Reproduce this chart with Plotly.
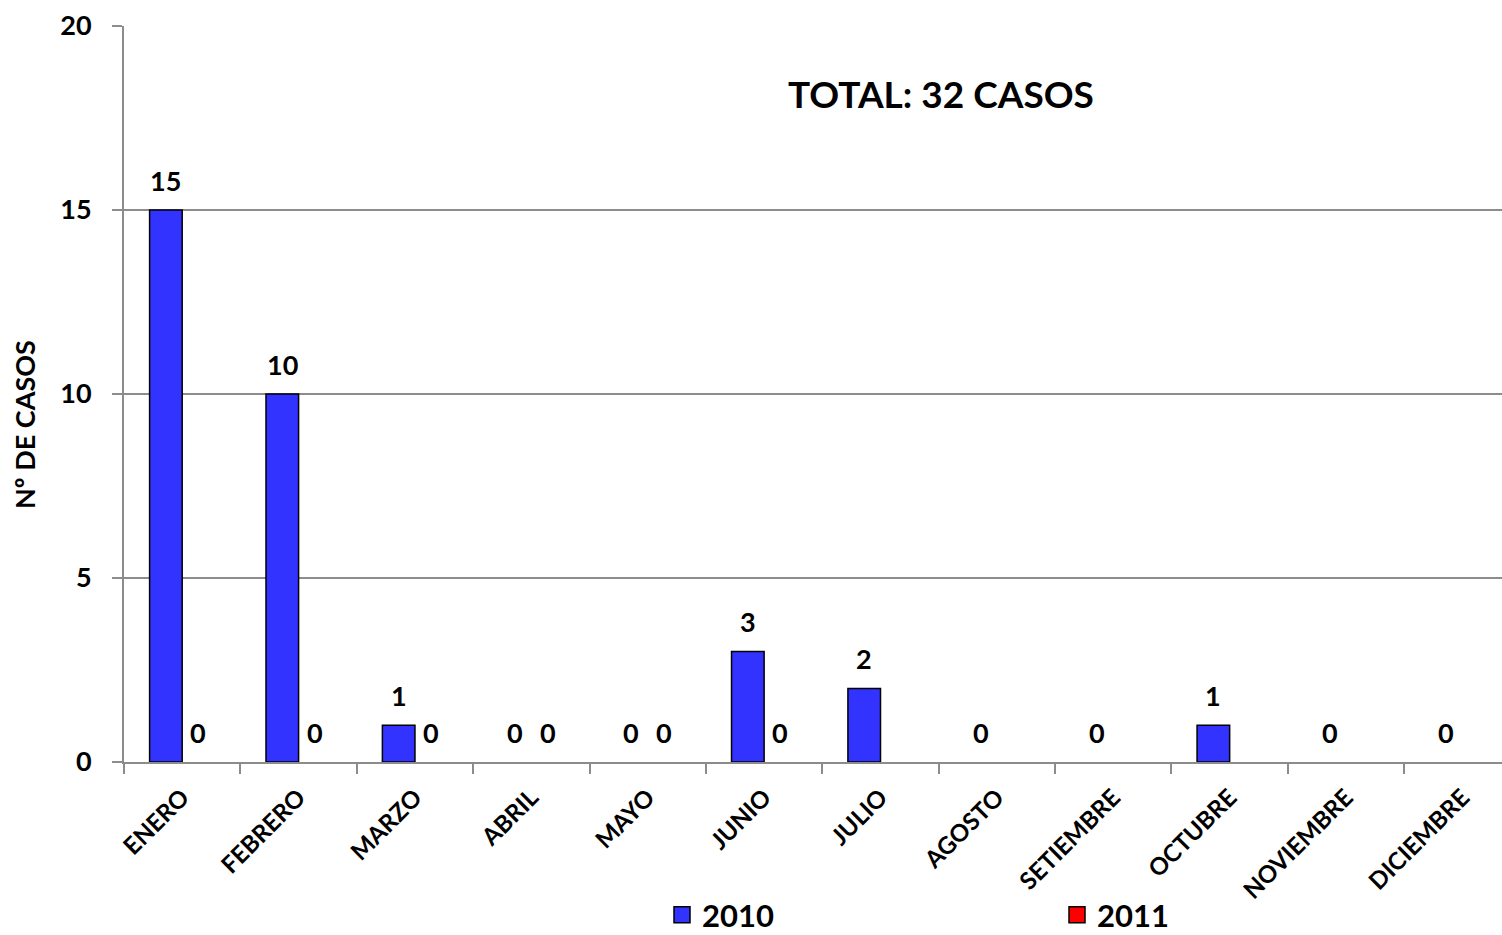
import plotly.graph_objects as go

meses = ["ENERO", "FEBRERO", "MARZO", "ABRIL", "MAYO", "JUNIO", "JULIO",
         "AGOSTO", "SETIEMBRE", "OCTUBRE", "NOVIEMBRE", "DICIEMBRE"]
casos_2010 = [15, 10, 1, 0, 0, 3, 2, 0, 0, 1, 0, 0]
casos_2011 = [0, 0, 0, 0, 0, 0, None, None, None, None, None, None]
total_texto = "TOTAL: 32 CASOS"
y_ticks = [0, 5, 10, 15, 20]

FONT = "Lato"
BARGAP = 0.44
bar_w = (1 - BARGAP) / 2
GRID = "#8c8c8c"
COLORS = {"2010": "#3333FF", "2011": "#FF0000"}

L, R, T, B = 124, 0, 26, 173
W, H = 1502, 935
pw, ph = W - L - R, H - T - B


def px_x(x):
    return (x - L) / pw


def px_y(y):
    return (H - B - y) / ph


fig = go.Figure()
for name, serie in (("2010", casos_2010), ("2011", casos_2011)):
    fig.add_trace(go.Bar(
        name=name, x=meses, y=serie, legendgroup=name, showlegend=False,
        marker=dict(color=COLORS[name],
                    line=dict(color="black",
                              width=[1.5 if (v is not None and v > 0) else 0 for v in serie]))))
    # legend entry with a larger square swatch
    fig.add_trace(go.Scatter(
        name=name, x=[None], y=[None], mode="markers", legendgroup=name, showlegend=True,
        marker=dict(symbol="square", size=20, color=COLORS[name],
                    line=dict(color="black", width=1.5))))

annotations = []
for serie, off in ((casos_2010, -bar_w / 2), (casos_2011, bar_w / 2)):
    for i, v in enumerate(serie):
        if v is None:
            continue
        annotations.append(dict(x=i + off, y=v, xref="x", yref="y", text=str(v),
                                showarrow=False, xanchor="center", yanchor="middle", yshift=30,
                                font=dict(family=FONT, size=27, color="black", weight="bold")))

annotations.append(dict(x=px_x(941), y=px_y(93), xref="paper", yref="paper", text=total_texto,
                        showarrow=False, xanchor="center", yanchor="middle",
                        font=dict(family=FONT, size=37, color="black", weight="bold")))
annotations.append(dict(text="Nº DE CASOS", textangle=-90, xref="paper", yref="paper",
                        x=px_x(24), y=px_y(425), showarrow=False,
                        xanchor="center", yanchor="middle",
                        font=dict(family=FONT, size=27, color="black", weight="bold")))

fig.update_layout(
    width=W, height=H,
    margin=dict(l=L, r=R, t=T, b=B, autoexpand=False),
    plot_bgcolor="white", paper_bgcolor="white",
    barmode="group", bargap=BARGAP, bargroupgap=0,
    font=dict(family=FONT, color="black"),
    annotations=annotations,
    legend=dict(orientation="h", x=px_x(662), xanchor="left",
                y=px_y(915), yanchor="middle", itemsizing="trace",
                bgcolor="rgba(0,0,0,0)",
                entrywidth=350, entrywidthmode="pixels",
                font=dict(family=FONT, size=31, color="black", weight="bold")),
    xaxis=dict(type="category", range=[-0.5, 11.34], showgrid=False, automargin=False,
               tickson="boundaries", ticks="outside", ticklen=10, tickcolor=GRID, tickwidth=2,
               tickangle=-45, showline=True, linecolor=GRID, linewidth=2,
               ticklabelstandoff=10,
               tickfont=dict(family=FONT, size=24, color="black", weight="bold")),
    yaxis=dict(range=[0, 20], tickvals=y_ticks, showgrid=True, gridcolor=GRID, gridwidth=1.5,
               zeroline=False, showline=True, linecolor=GRID, linewidth=2, automargin=False,
               ticks="outside", ticklen=10, tickcolor=GRID, tickwidth=2,
               ticklabelstandoff=15,
               tickfont=dict(family=FONT, size=27, color="black", weight="bold")),
)

fig.write_html("out.html", config={"displayModeBar": False},
               post_script="document.body.style.margin='0';")
